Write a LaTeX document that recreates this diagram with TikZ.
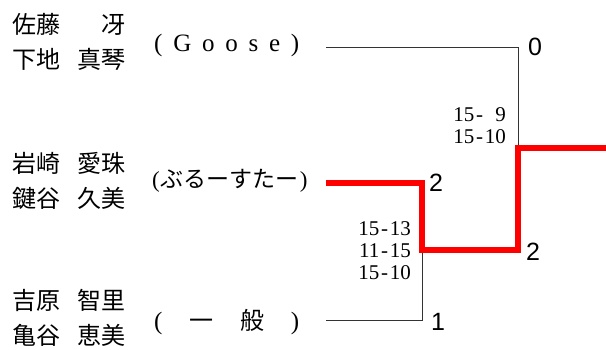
\documentclass[tikz,border=0pt]{standalone}
\usepackage{fontspec}
\setmainfont{Liberation Serif}
\newfontfamily\jpfont{Noto Sans CJK JP}
\newfontfamily\numfont{Liberation Sans}
\usepackage{tikz}
\usetikzlibrary{positioning}

% gap between family and given name, and a monospaced dash for scores
\newcommand{\nameGap}{\hspace{17pt}}
\newcommand{\scoreDash}{\makebox[0.5em]{-}}

\begin{document}
\begin{tikzpicture}[
  x=1pt, y=-1pt,
  % names of the pairs
  pairName/.style={anchor=west, inner sep=0pt, align=left,
    font=\jpfont\fontsize{24}{35}\selectfont},
  teamName/.style={anchor=west, inner sep=0pt,
    font=\fontsize{25}{26}\selectfont},
  setScore/.style={anchor=east, inner sep=0pt, align=right,
    font=\fontsize{21}{22}\selectfont},
  matchWin/.style={anchor=west, inner sep=0pt,
    font=\numfont\fontsize{25}{28}\selectfont},
  bracketLine/.style={draw=black!80, thin},
  winLine/.style={draw=red, line width=5.5pt, line join=miter},
]

\useasboundingbox (0,0) rectangle (606,349);

% --- pairs ---
\node [pairName] (pairA) at (12,42) {佐藤\nameGap\hphantom{真}冴\\下地\nameGap 真琴};
\node [pairName] (pairB) at (12,181) {岩崎\nameGap 愛珠\\鍵谷\nameGap 久美};
\node [pairName] (pairC) at (12,318) {吉原\nameGap 智里\\亀谷\nameGap 恵美};

\node [teamName] (teamA) at (154,45)
  {\makebox[145pt][s]{(\hfil G\hfil o\hfil o\hfil s\hfil e\hfil)}};
\node [teamName] (teamB) at (152,181)
  {\fontsize{23}{26}\selectfont(\hspace{1pt}{\jpfont ぶるーすたー}\hspace{1pt})};
\node [teamName] (teamC) at (154,322)
  {\makebox[145pt][s]{(\hfil{\jpfont\fontsize{24}{26}\selectfont 一}\hfil{\jpfont\fontsize{24}{26}\selectfont 般}\hfil)}};

% --- bracket joints ---
\coordinate (lineA) at (326,47);
\coordinate (lineB) at (326,183);
\coordinate (lineC) at (326,320);
\coordinate (semiTop) at (422,183);
\coordinate (semiBot) at (422,320);
\coordinate (semiOut) at (422,250);
\coordinate (finTop) at (518,47);
\coordinate (finBot) at (518,250);
\coordinate (finOut) at (518,148);
\coordinate (champ) at (606,148);

% --- scores ---
\node [setScore] (scoreFin) at (506,126) {15\scoreDash\phantom{1}9\\15\scoreDash 10};
\node [setScore] (scoreSemi) at (411,251) {15\scoreDash 13\\11\scoreDash 15\\15\scoreDash 10};

\node [matchWin] (winA) at (528,47) {0};
\node [matchWin] (winB) at (429,183) {2};
\node [matchWin] (winF) at (526,252) {2};
\node [matchWin] (winC) at (431,322) {1};

% --- lines ---
\draw [bracketLine] (lineA) -- (finTop) -- (finOut);
\draw [bracketLine] (lineC) -- (semiBot) -- (semiOut);

\draw [winLine] (lineB) -- (semiTop) -- (semiOut) -- (finBot) -- (finOut) -- (champ);

\end{tikzpicture}
\end{document}
